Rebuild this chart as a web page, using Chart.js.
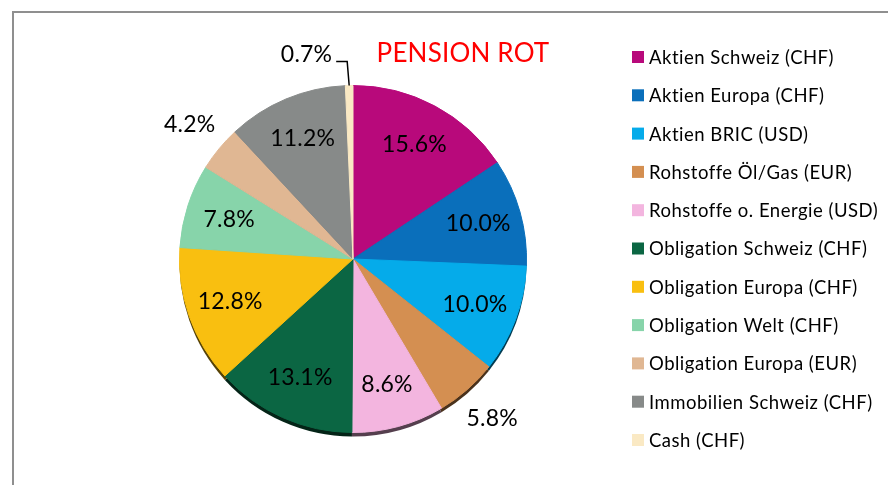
<!DOCTYPE html>
<html>
<head>
<meta charset="utf-8">
<script src="https://cdn.jsdelivr.net/npm/chart.js@4.4.0/dist/chart.umd.min.js"></script>
<style>
  html, body { margin: 0; background: #fff; }
  #wrap { position: relative; width: 888px; height: 485px; overflow: hidden; }
  #frame {
    position: absolute; left: 12px; top: 11px; width: 900px; height: 500px;
    border-left: 2px solid #8f8f8f; border-top: 2px solid #8f8f8f;
  }
  canvas { position: absolute; left: 0; top: 0; }
</style>
</head>
<body>
<div id="wrap">
  <div id="frame"></div>
  <canvas id="chart" width="888" height="485"></canvas>
</div>
<script>
// Portfolio allocation, clockwise from 12 o'clock
const categories = [
  'Aktien Schweiz (CHF)',
  'Aktien Europa (CHF)',
  'Aktien BRIC (USD)',
  'Rohstoffe Öl/Gas (EUR)',
  'Rohstoffe o. Energie (USD)',
  'Obligation Schweiz (CHF)',
  'Obligation Europa (CHF)',
  'Obligation Welt (CHF)',
  'Obligation Europa (EUR)',
  'Immobilien Schweiz (CHF)',
  'Cash (CHF)',
];
const shares = [15.6, 10.0, 10.0, 5.8, 8.6, 13.1, 12.8, 7.8, 4.2, 11.2, 0.7];
const shareLabels = ['15.6%', '10.0%', '10.0%', '5.8%', '8.6%', '13.1%', '12.8%', '7.8%', '4.2%', '11.2%', '0.7%'];
const chartTitle = 'PENSION ROT';

const colors = [
  '#b8097b', '#0a6fbb', '#05abea', '#d48f51', '#f3b5df', '#0b6643',
  '#f9bf10', '#87d4aa', '#e0b793', '#878a89', '#fae9c4',
];

const FONT = 'Lato, "Liberation Sans", sans-serif';

function darken(hex, k) {
  const n = parseInt(hex.slice(1), 16);
  const r = Math.round(((n >> 16) & 255) * k);
  const g = Math.round(((n >> 8) & 255) * k);
  const b = Math.round((n & 255) * k);
  return `rgb(${r},${g},${b})`;
}

// thin dark rim under the pie, like the Excel 3D bevel
const rimPlugin = {
  id: 'rim',
  beforeDatasetsDraw(chart) {
    const ctx = chart.ctx;
    const arcs = chart.getDatasetMeta(0).data;
    ctx.save();
    ctx.translate(0, 4);
    arcs.forEach((a, i) => {
      ctx.beginPath();
      ctx.moveTo(a.x, a.y);
      ctx.arc(a.x, a.y, a.outerRadius, a.startAngle, a.endAngle);
      ctx.closePath();
      ctx.fillStyle = darken(colors[i], 0.35);
      ctx.fill();
    });
    ctx.restore();
  },
};

// percent labels, title and legend
const decorPlugin = {
  id: 'decor',
  afterDatasetsDraw(chart) {
    const ctx = chart.ctx;
    const arcs = chart.getDatasetMeta(0).data;
    ctx.save();
    ctx.letterSpacing = '0.2px'; // also stops the Lato "ti" ligature
    ctx.fillStyle = '#000';
    ctx.font = `23px ${FONT}`;
    ctx.textBaseline = 'middle';
    arcs.forEach((a, i) => {
      const mid = (a.startAngle + a.endAngle) / 2;
      const r = a.outerRadius;
      const v = shares[i];
      if (v < 1) {
        // leader line up and to the left
        const x0 = a.x + Math.cos(mid) * r;
        const y0 = a.y + Math.sin(mid) * r;
        ctx.strokeStyle = '#000';
        ctx.lineWidth = 1.5;
        ctx.beginPath();
        ctx.moveTo(x0, y0);
        ctx.lineTo(x0 - 2, y0 - 24);
        ctx.lineTo(x0 - 13, y0 - 24);
        ctx.stroke();
        ctx.textAlign = 'right';
        ctx.fillText(shareLabels[i], x0 - 17, y0 - 31);
        return;
      }
      const f = v < 6 ? 1.22 : 0.75;
      ctx.textAlign = 'center';
      ctx.fillText(shareLabels[i], a.x + Math.cos(mid) * r * f, a.y + Math.sin(mid) * r * f);
    });

    ctx.fillStyle = '#ff0000';
    ctx.font = `26px ${FONT}`;
    ctx.textAlign = 'center';
    ctx.textBaseline = 'alphabetic';
    ctx.fillText(chartTitle, 463, 62);

    ctx.letterSpacing = '0.5px';
    ctx.font = `18.5px ${FONT}`;
    ctx.textAlign = 'left';
    ctx.textBaseline = 'middle';
    categories.forEach((c, i) => {
      const cy = 57 + i * 38.3;
      ctx.fillStyle = colors[i];
      ctx.fillRect(632, cy - 6, 12, 12);
      ctx.fillStyle = '#000';
      ctx.fillText(c, 649, cy + 1);
    });
    ctx.restore();
  },
};

new Chart(document.getElementById('chart'), {
  type: 'pie',
  data: {
    labels: categories,
    datasets: [{
      data: shares,
      backgroundColor: colors,
      borderColor: colors,
      borderWidth: 1,
    }],
  },
  options: {
    responsive: false,
    animation: false,
    layout: { padding: { left: 179, right: 361, top: 85, bottom: 52 } },
    plugins: {
      legend: { display: false },
      tooltip: { enabled: false },
    },
  },
  plugins: [rimPlugin, decorPlugin],
});
</script>
</body>
</html>
